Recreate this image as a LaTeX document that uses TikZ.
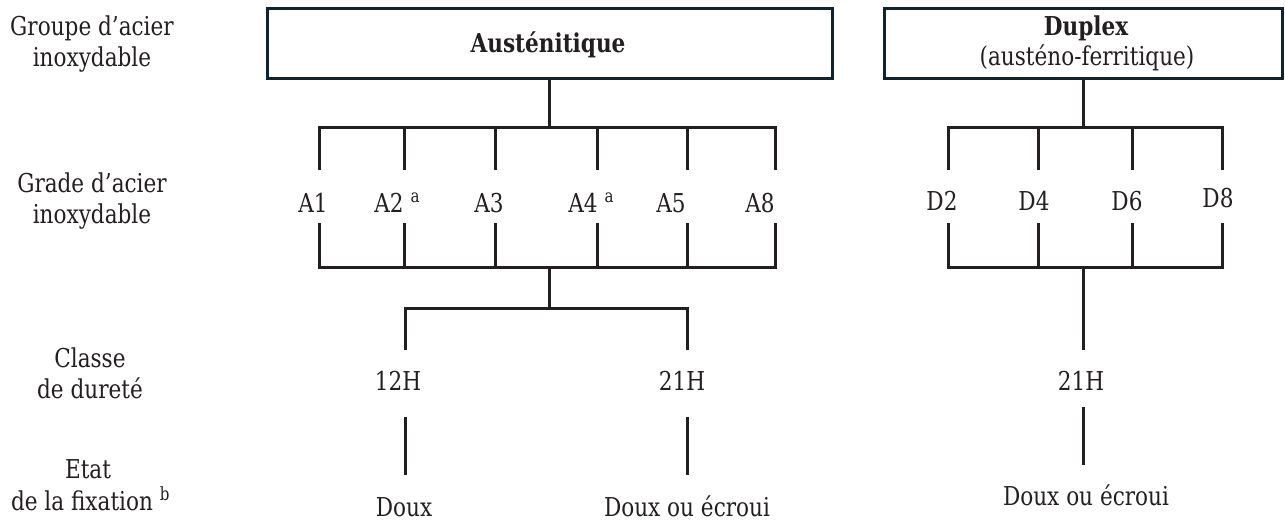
\documentclass[tikz,border=0pt]{standalone}
\usepackage{fontspec}
\setmainfont{DejaVu Serif}[FakeStretch=0.83]
\definecolor{ink}{HTML}{231F20}
\definecolor{navy}{HTML}{0E2433}
\begin{document}
\begin{tikzpicture}[x=1pt,y=-1pt,
  txt/.style={inner sep=0pt, anchor=base, text=ink, font=\fontsize{26}{31}\selectfont},
  btxt/.style={txt, font=\fontsize{26}{31}\selectfont\bfseries},
  grp/.style={draw=navy, line width=3pt, inner sep=0pt},
  link/.style={draw=ink, line width=3pt}]
\useasboundingbox (0,0) rectangle (1285,523);

% ---------- left row labels ----------
\node[txt] (l1a) at (92,35) {Groupe d’acier};
\node[txt] (l1b) at (92,66) {inoxydable};
\node[txt] (l2a) at (92,192) {Grade d’acier};
\node[txt] (l2b) at (92,223) {inoxydable};
\node[txt] (l3a) at (90,367) {Classe};
\node[txt] (l3b) at (90,398) {de dureté};
\node[txt] (l4a) at (88,478) {Etat};
\node[txt] (l4b) at (82,510) {de la fixation\rlap{ \textsuperscript{b}}};

% ---------- group boxes ----------
\node[grp, minimum width=565pt, minimum height=70pt] (aus) at (550,43.5) {};
\node[btxt] (ausT) at (548,52) {Austénitique};
\node[grp, minimum width=398pt, minimum height=70pt] (dup) at (1083.5,43.5) {};
\node[btxt] (dupT) at (1086,35) {Duplex};
\node[txt] (dupS) at (1087,65) {(austéno-ferritique)};

% ---------- austenitic grades ----------
\node[txt] (A1) at (313,212) {A1};
\node[txt] (A2) at (389,212) {A2\rlap{ \textsuperscript{a}}};
\node[txt] (A3) at (489,212) {A3};
\node[txt] (A4) at (583,212) {A4\rlap{ \textsuperscript{a}}};
\node[txt] (A5) at (671,212) {A5};
\node[txt] (A8) at (760,212) {A8};

\foreach \n/\x in {1/319,2/404,3/495,4/597,5/687,8/775}{
  \coordinate (au\n) at (\x,127);
  \coordinate (ad\n) at (\x,170);
  \coordinate (al\n) at (\x,223);
  \coordinate (ab\n) at (\x,267);
}
\coordinate (ausJ) at (549,127);
\draw[link] (aus.south -| ausJ) -- (ausJ);
\draw[link] (ad1) -- (au1) -- (au8) -- (ad8);
\foreach \n in {2,3,4,5}{ \draw[link] (au\n) -- (ad\n); }
\draw[link] (al1) -- (ab1) -- (ab8) -- (al8);
\foreach \n in {2,3,4,5}{ \draw[link] (al\n) -- (ab\n); }

% ---------- austenitic hardness ----------
\coordinate (hJ) at (549,267);
\coordinate (hM) at (549,308);
\coordinate (h1t) at (405,308);
\coordinate (h1b) at (405,350);
\coordinate (h2t) at (687,308);
\coordinate (h2b) at (687,350);
\draw[link] (hJ) -- (hM);
\draw[link] (h1b) -- (h1t) -- (h2t) -- (h2b);
\node[txt] (H12) at (398,390) {12H};
\node[txt] (H21) at (682,390) {21H};
\coordinate (s1t) at (405,417);
\coordinate (s1b) at (405,475);
\coordinate (s2t) at (687,417);
\coordinate (s2b) at (687,475);
\draw[link] (s1t) -- (s1b);
\draw[link] (s2t) -- (s2b);
\node[txt] (st1) at (404,516) {Doux};
\node[txt] (st2) at (687,516) {Doux ou écroui};

% ---------- duplex grades ----------
\node[txt] (D2) at (942,210) {D2};
\node[txt] (D4) at (1034,210) {D4};
\node[txt] (D6) at (1127,210) {D6};
\node[txt] (D8) at (1218,207) {D8};
\foreach \n/\x in {2/948,4/1038,6/1132,8/1222}{
  \coordinate (du\n) at (\x,127);
  \coordinate (dd\n) at (\x,170);
  \coordinate (dl\n) at (\x,223);
  \coordinate (db\n) at (\x,267);
}
\coordinate (dupJ) at (1083.5,127);
\draw[link] (dup.south -| dupJ) -- (dupJ);
\draw[link] (dd2) -- (du2) -- (du8) -- (dd8);
\foreach \n in {4,6}{ \draw[link] (du\n) -- (dd\n); }
\draw[link] (dl2) -- (db2) -- (db8) -- (dl8);
\foreach \n in {4,6}{ \draw[link] (dl\n) -- (db\n); }
\coordinate (dJ) at (1083.5,267);
\coordinate (dM) at (1083.5,350);
\draw[link] (dJ) -- (dM);
\node[txt] (DH21) at (1081,390) {21H};
\coordinate (ds1) at (1083.5,407);
\coordinate (ds2) at (1083.5,465);
\draw[link] (ds1) -- (ds2);
\node[txt] (dst) at (1086,505) {Doux ou écroui};
\end{tikzpicture}
\end{document}
